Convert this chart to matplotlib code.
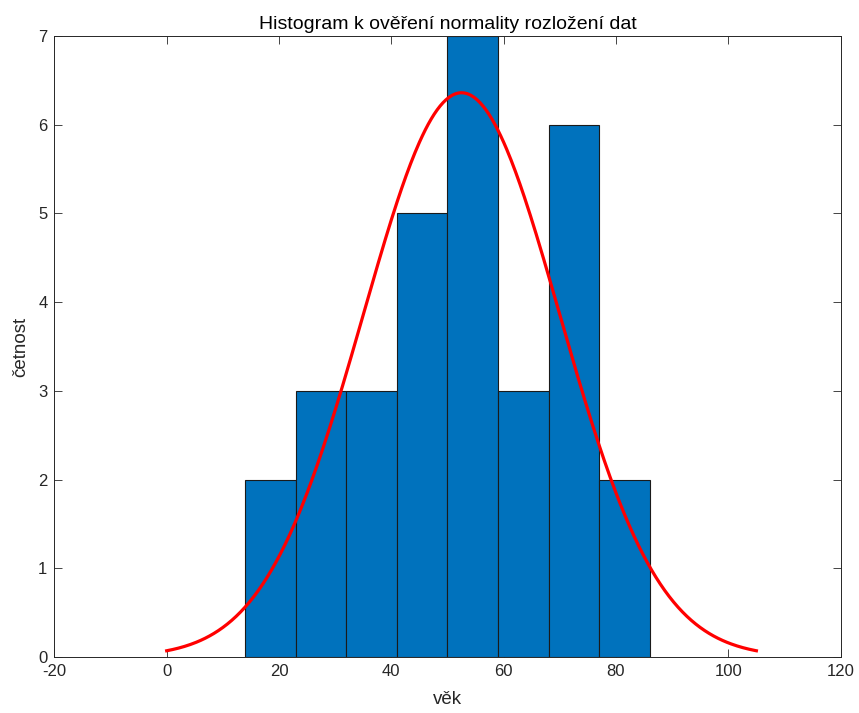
import numpy as np
import matplotlib
matplotlib.use("Agg")
import matplotlib.pyplot as plt

plt.rcParams['font.family'] = ['Liberation Sans', 'DejaVu Sans']
plt.rcParams['axes.unicode_minus'] = False

# Data
bin_edges = [14, 23, 32, 41, 50, 59, 68, 77, 86]
counts = [2, 3, 3, 5, 7, 3, 6, 2]
mu = 52.5
sigma = 17.5
n_total = sum(counts)
bin_width = 9
x_ticks = [-20, 0, 20, 40, 60, 80, 100, 120]
y_ticks = [0, 1, 2, 3, 4, 5, 6, 7]

fig = plt.figure(figsize=(8.59, 7.13), dpi=100)
ax = fig.add_axes([0.0633, 0.0785, 0.9786 - 0.0633, 0.9495 - 0.0785])

lefts = np.array(bin_edges[:-1])
widths = np.diff(bin_edges)
ax.bar(lefts, counts, width=widths, align='edge', color='#0072BD',
       edgecolor='#1a1a1a', linewidth=0.8, zorder=2)

xs = np.linspace(mu - 3 * sigma, mu + 3 * sigma, 400)
ys = n_total * bin_width / (sigma * np.sqrt(2 * np.pi)) * np.exp(-(xs - mu) ** 2 / (2 * sigma ** 2))
ax.plot(xs, ys, color='#FF0000', linewidth=2.3, zorder=3)

ax.set_xlim(-20, 120)
ax.set_ylim(0, 7)
ax.set_xticks(x_ticks)
ax.set_yticks(y_ticks)
ax.tick_params(direction='in', top=True, right=True, length=6, width=0.6,
               colors='#262626', labelsize=12, labelcolor='#262626', pad=5)
for s in ax.spines.values():
    s.set_color('#262626')
    s.set_linewidth(0.7)

ax.set_title('Histogram k ověření normality rozložení dat', fontsize=14, color='#000000', pad=5)
ax.set_xlabel('věk', fontsize=13.5, color='#262626', labelpad=9)
ax.set_ylabel('četnost', fontsize=13.5, color='#262626', labelpad=6)

fig.savefig('out.png', dpi=100)
